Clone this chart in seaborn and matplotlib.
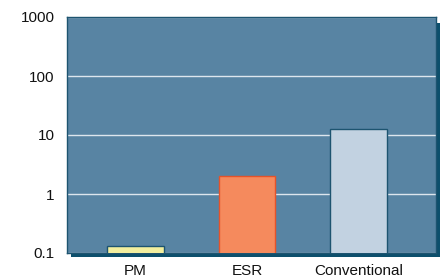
import matplotlib
matplotlib.use('Agg')
import matplotlib.pyplot as plt
import matplotlib.patches as mpatches
import seaborn as sns
import pandas as pd

# Data (log scale)
categories = ['PM', 'ESR', 'Conventional']
values = [0.13, 2.0, 12.5]
fill_colors = ['#f3ef9e', '#f58a5d', '#c2d2e1']
edge_colors = ['#1d5470', '#e5532a', '#1d5470']
y_ticks = [0.1, 1, 10, 100, 1000]
y_tick_labels = ['0.1', '1', '10', '100', '1000']

df = pd.DataFrame({'method': categories, 'value': values})

sns.set_theme(style='white')
plt.rcParams['font.family'] = ['Liberation Sans', 'DejaVu Sans']

fig = plt.figure(figsize=(4.48, 2.77), dpi=100)
W, H = 448, 277
left, right, top, bottom = 67, 436, 17, 253
ax = fig.add_axes([left / W, 1 - bottom / H, (right - left) / W, (bottom - top) / H])
ax.set_zorder(2)

# drop shadow behind the plot area
shadow = mpatches.Rectangle(((left + 4) / W, 1 - (bottom + 4) / H), (right - left) / W, (bottom - top - 2) / H,
                            transform=fig.transFigure, facecolor='#0c4f6c', edgecolor='none', zorder=-1)
fig.add_artist(shadow)

ax.set_facecolor('#5884a3')
sns.barplot(data=df, x='method', y='value', hue='method', palette=fill_colors,
            saturation=1, width=0.51, legend=False, ax=ax, zorder=3)
for patch, ec in zip(ax.patches, edge_colors):
    patch.set_edgecolor(ec)
    patch.set_linewidth(1.0)

ax.set_yscale('log')
ax.set_ylim(0.1, 1000)
ax.set_xlim(-0.614, 2.695)
ax.set_yticks(y_ticks)
ax.set_yticklabels(y_tick_labels)
ax.minorticks_off()
ax.yaxis.grid(True, color='#dde6ee', linewidth=1.0, zorder=1)
ax.set_axisbelow(True)
ax.tick_params(axis='both', length=0, labelsize=11, colors='#111111')
ax.tick_params(axis='x', pad=8)
ax.tick_params(axis='y', pad=9)
ax.set_xlabel('')
ax.set_ylabel('')
for s in ax.spines.values():
    s.set_color('#1d5470')
    s.set_linewidth(1.0)

fig.savefig('out.png', dpi=100)
